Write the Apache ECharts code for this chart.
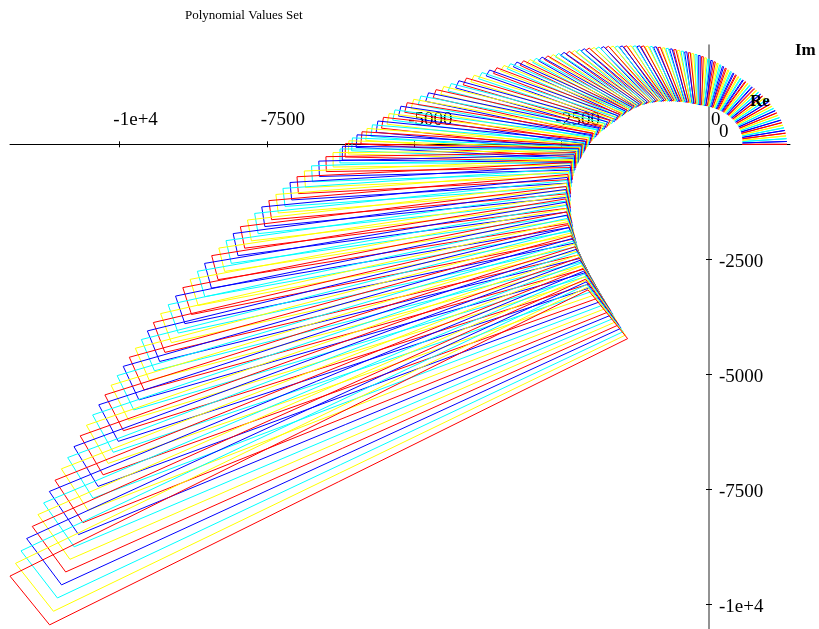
<!DOCTYPE html>
<html><head><meta charset="utf-8">
<script src="https://cdn.jsdelivr.net/npm/echarts@6/dist/echarts.min.js"></script>
<style>html,body{margin:0;padding:0;background:#fff}#c{width:819px;height:629px}</style>
</head><body><div id="c"></div>
<script>
const chartTitle = 'Polynomial Values Set';
const xTicks = [-10000, -7500, -5000, -2500, 0];
const xTickLabels = ['-1e+4', '-7500', '-5000', '-2500', '0'];
const yTicks = [-10000, -7500, -5000, -2500, 0];
const yTickLabels = ['-1e+4', '-7500', '-5000', '-2500', '0'];
const palette = ['#ff0000', '#0000ff', '#00ffff', '#ffff00'];

// value-set rectangles (one per frequency): inner corner (x, y), direction of long side (deg), long side, short side
const innerX = [565,568,569,569,568,566,563,558,552,546,538,529,519,508,496,484,470,455,440,424,407,389,371,352,333,313,292,271,250,228,206,184,161,137,114,91,67,43,19,-5,-29,-54,-78,-102,-126,-150,
-176,-201,-226,-254,-282,-310,-340,-371,-401,-432,-465,-498,-530,-564,-597,-630,-664,-698,-732,-766,-801,-836,-871,-906,-942,-977,-1012,-1047,-1080,-1113,-1146,-1180,-1213,-1246,-1275,-1304,-1332,-1359,-1386,-1413,
-1441,-1471,-1509,-1547,-1590,-1636,-1681,-1721,-1761,-1799,-1836,-1872,-1905,-1936,-1966,-1993,-2019,-2045,-2069,-2092,-2113,-2134,-2150,-2166,-2182,-2195,-2206,-2217,-2224,
-2245,-2266,-2285,-2304,-2322,-2340,-2355,-2369,-2382,-2393,-2403,-2411,-2418,-2424,-2428,-2430,-2431,-2430,-2428,-2425,-2421,-2416,-2410,-2403,-2397,-2390,-2377,-2363,-2349,-2334,-2319,-2303,-2287,-2271,-2254,-2237,-2220,-2203,-2186,-2169,-2153,-2137,-2126,-2115,-2104,-2094,-2083,-2073,-2062,-2052];
const innerY = [0,30,60,90,120,150,179,209,238,266,295,323,350,377,403,429,454,479,503,526,549,570,592,612,632,650,668,686,702,718,733,747,761,773,785,796,806,816,825,833,840,846,852,857,861,865,
874,883,892,900,907,915,922,928,934,940,945,950,954,957,960,962,963,964,965,964,962,961,957,952,947,940,931,922,911,899,886,870,854,837,818,800,781,762,743,723,
704,682,651,621,588,553,519,486,454,421,384,348,314,279,246,212,176,141,106,71,36,4,-20,-40,-58,-73,-86,-98,-110,
-140,-180,-225,-275,-330,-396,-460,-525,-590,-655,-720,-786,-851,-916,-981,-1047,-1117,-1187,-1258,-1328,-1398,-1468,-1539,-1609,-1680,-1750,-1809,-1869,-1928,-1988,-2047,-2106,-2166,-2225,-2284,-2344,-2403,-2463,-2522,-2581,-2641,-2700,-2758,-2816,-2874,-2932,-2990,-3048,-3106,-3164];
const angleDeg = [0,2.40,4.78,7.15,9.49,11.82,14.13,16.42,18.70,20.95,23.19,25.41,27.61,29.79,31.95,34.10,36.23,38.34,40.43,42.50,44.56,46.59,48.61,50.61,52.59,54.56,56.50,58.43,60.34,62.23,64.10,65.95,67.79,69.61,71.41,73.19,74.95,76.70,78.42,80.13,81.82,83.49,85.15,86.78,88.40,90.00,
91.59,93.17,94.75,96.32,97.89,99.46,101.02,102.58,104.13,105.68,107.22,108.76,110.29,111.82,113.34,114.86,116.38,117.89,119.40,120.90,122.40,123.89,125.38,126.86,128.34,129.82,131.29,132.76,134.22,135.68,137.13,138.58,140.03,141.47,142.89,144.33,145.76,147.18,148.59,150.00,
151.40,152.77,154.11,155.43,156.72,157.99,159.23,160.44,161.63,162.79,163.92,165.03,166.11,167.17,168.20,169.20,170.18,171.13,172.06,172.96,173.83,174.68,175.50,176.29,177.06,177.80,178.52,179.21,179.87,
180.55,181.20,181.85,182.50,183.15,183.80,184.45,185.10,185.75,186.40,187.05,187.70,188.35,189.00,189.65,190.30,190.95,191.60,192.25,192.90,193.55,194.20,194.85,195.50,196.15,196.80,197.45,198.10,198.75,199.40,200.05,200.70,201.35,202.00,202.65,203.30,203.95,204.60,205.25,205.90,206.55,207.20,207.85,208.50,209.15,209.80,210.45,211.10,211.75,212.40];
const longSide = [758,753,749,744,740,735,731,727,723,719,715,713,711,709,707,705,705,705,705,705,705,709,713,717,721,725,734,743,752,761,770,786,802,818,834,850,872,894,916,938,960,981,1002,1023,1044,1065,
1078,1091,1104,1117,1130,1145,1160,1175,1190,1205,1221,1237,1253,1269,1285,1301,1317,1333,1351,1370,1393,1416,1440,1465,1490,1517,1545,1573,1602,1632,1668,1705,1745,1786,1830,1880,1935,1995,2060,2130,
2190,2255,2320,2390,2460,2530,2600,2675,2750,2825,2905,2985,3070,3150,3220,3290,3355,3420,3485,3550,3615,3680,3745,3810,3870,3915,3960,4000,4034,
4132,4232,4335,4441,4549,4658,4766,4876,4989,5104,5222,5343,5467,5593,5723,5856,5991,6129,6270,6414,6562,6713,6867,7025,7187,7347,7493,7642,7794,7949,8107,8268,8433,8601,8772,8946,9124,9306,9491,9680,9872,10068,10249,10434,10622,10813,11008,11206,11407,11611];
const shortSide = [0,0.5,1.0,1.5,2.0,2.4,2.9,3.4,3.8,4.3,4.7,5.2,5.6,6.1,6.5,7.0,7.4,7.9,8.4,8.8,9.3,9.8,10.3,10.9,11.4,11.9,12.6,13.2,13.9,14.5,15.2,16.1,16.9,17.8,18.7,19.6,20.7,21.8,22.9,24.1,25.3,26.5,27.7,29.0,30.3,31.6,
32.7,33.8,34.9,36.1,37.2,38.5,39.8,41.0,42.3,43.7,45.1,46.5,47.9,49.3,50.8,52.3,53.8,55.3,57.0,58.7,60.6,62.5,64.5,66.6,68.7,71.0,73.3,75.7,78.1,80.7,83.5,86.5,89.7,93.0,96.5,100,105,109,114,119,
124,129,135,140,146,152,158,164,170,177,184,191,198,206,212,219,226,232,239,246,253,259,267,274,281,286,292,298,303,
313,324,334,345,357,368,380,392,404,417,430,444,458,472,487,502,517,533,550,566,584,602,620,639,658,678,696,715,735,754,775,796,817,839,861,884,908,932,957,982,1008,1035,1060,1086,1113,1140,1168,1196,1224,1255];

const X_MIN = -11855, X_MAX = 1374, Y_MIN = -10535, Y_MAX = 2159;
const G_LEFT = 10, G_TOP = 45, G_W = 780, G_H = 584;
// helper grids whose edges fall on the zero lines, so the axes cross at the origin
const zeroX = G_LEFT + G_W * (0 - X_MIN) / (X_MAX - X_MIN);
const zeroY = G_H * (Y_MAX - 0) / (Y_MAX - Y_MIN);

const rectData = innerX.map((x, i) => [x, innerY[i], angleDeg[i], longSide[i], shortSide[i], i]);

const chart = echarts.init(document.getElementById('c'), null, {renderer: 'canvas'});
const serif = '"Liberation Serif", "Times New Roman", serif';
const labelOf = (ticks, labels, v) => { const i = ticks.indexOf(v); return i < 0 ? '' : labels[i]; };
const hidden = (gi, min, max) => ({gridIndex: gi, type: 'value', min: min, max: max, show: false});

chart.setOption({
  animation: false,
  backgroundColor: '#fff',
  title: {text: chartTitle, left: 180, top: 4, padding: 5,
          textStyle: {fontFamily: serif, fontSize: 13, fontWeight: 'normal', color: '#000'}},
  grid: [
    {left: G_LEFT, top: G_TOP, width: G_W, height: G_H},
    {left: G_LEFT, top: G_TOP, width: G_W, height: zeroY},
    {left: zeroX, top: G_TOP, width: G_LEFT + G_W - zeroX, height: G_H}
  ],
  xAxis: [
    hidden(0, X_MIN, X_MAX),
    {gridIndex: 1, type: 'value', position: 'bottom', min: X_MIN, max: X_MAX, splitLine: {show: false},
     axisLine: {onZero: false, lineStyle: {color: '#000', width: 1}},
     axisTick: {show: true, customValues: xTicks, length: 3, inside: false, lineStyle: {color: '#000'}},
     axisLabel: {show: true, customValues: xTicks, inside: true, margin: 15,
       formatter: v => v === 0 ? '{z|0}' : '{n|' + labelOf(xTicks, xTickLabels, v) + '}',
       align: 'left', padding: [0, 0, 0, -6],
       rich: {n: {fontFamily: serif, fontSize: 19, color: '#000'},
              z: {fontFamily: serif, fontSize: 19, color: '#000', padding: [0, 0, 0, 8]}}}},
    {gridIndex: 1, type: 'value', position: 'bottom', min: X_MIN, max: X_MAX, splitLine: {show: false},
     axisLine: {show: false, onZero: false},
     axisTick: {show: true, customValues: xTicks, length: 3, inside: true, lineStyle: {color: '#000'}},
     axisLabel: {show: false}},
    hidden(2, 0, 1)
  ],
  yAxis: [
    hidden(0, Y_MIN, Y_MAX),
    hidden(1, 0, 1),
    {gridIndex: 2, type: 'value', position: 'left', min: Y_MIN, max: Y_MAX, splitLine: {show: false},
     axisLine: {onZero: false, lineStyle: {color: '#6e6e6e', width: 1.5}},
     axisTick: {show: true, customValues: yTicks, length: 3, inside: false, lineStyle: {color: '#000'}},
     axisLabel: {show: true, customValues: yTicks, inside: true, margin: 10,
       formatter: v => v === 0 ? '{z|0}' : '{n|' + labelOf(yTicks, yTickLabels, v) + '}',
       rich: {n: {fontFamily: serif, fontSize: 19, color: '#000', padding: [6, 0, 0, 0]},
              z: {fontFamily: serif, fontSize: 19, color: '#000', padding: [0, 0, 24, 0]}}}},
    {gridIndex: 2, type: 'value', position: 'left', min: Y_MIN, max: Y_MAX, splitLine: {show: false},
     axisLine: {show: false, onZero: false},
     axisTick: {show: true, customValues: yTicks, length: 3, inside: true, lineStyle: {color: '#000'}},
     axisLabel: {show: false}}
  ],
  graphic: [
    {type: 'text', left: 750, top: 93, z: 100, style: {text: 'Re', font: 'bold 17px "Liberation Serif"', fill: '#000'}},
    {type: 'text', left: 795, top: 42, z: 100, style: {text: 'Im', font: 'bold 17px "Liberation Serif"', fill: '#000'}}
  ],
  series: [{
    type: 'custom', xAxisIndex: 0, yAxisIndex: 0, data: rectData, clip: false, z: 5,
    renderItem: function (params, api) {
      const dx = api.value(0), dy = api.value(1), th = api.value(2) * Math.PI / 180;
      const L = api.value(3), w = api.value(4), k = api.value(5);
      const ux = Math.cos(th), uy = Math.sin(th), vx = -uy, vy = ux;
      const pts = [[dx, dy], [dx + L * ux, dy + L * uy], [dx + L * ux + w * vx, dy + L * uy + w * vy], [dx + w * vx, dy + w * vy]]
        .map(p => api.coord(p));
      return {type: 'polygon', shape: {points: pts}, style: {fill: null, stroke: palette[k % 4], lineWidth: 1}};
    }
  }]
});
</script></body></html>
